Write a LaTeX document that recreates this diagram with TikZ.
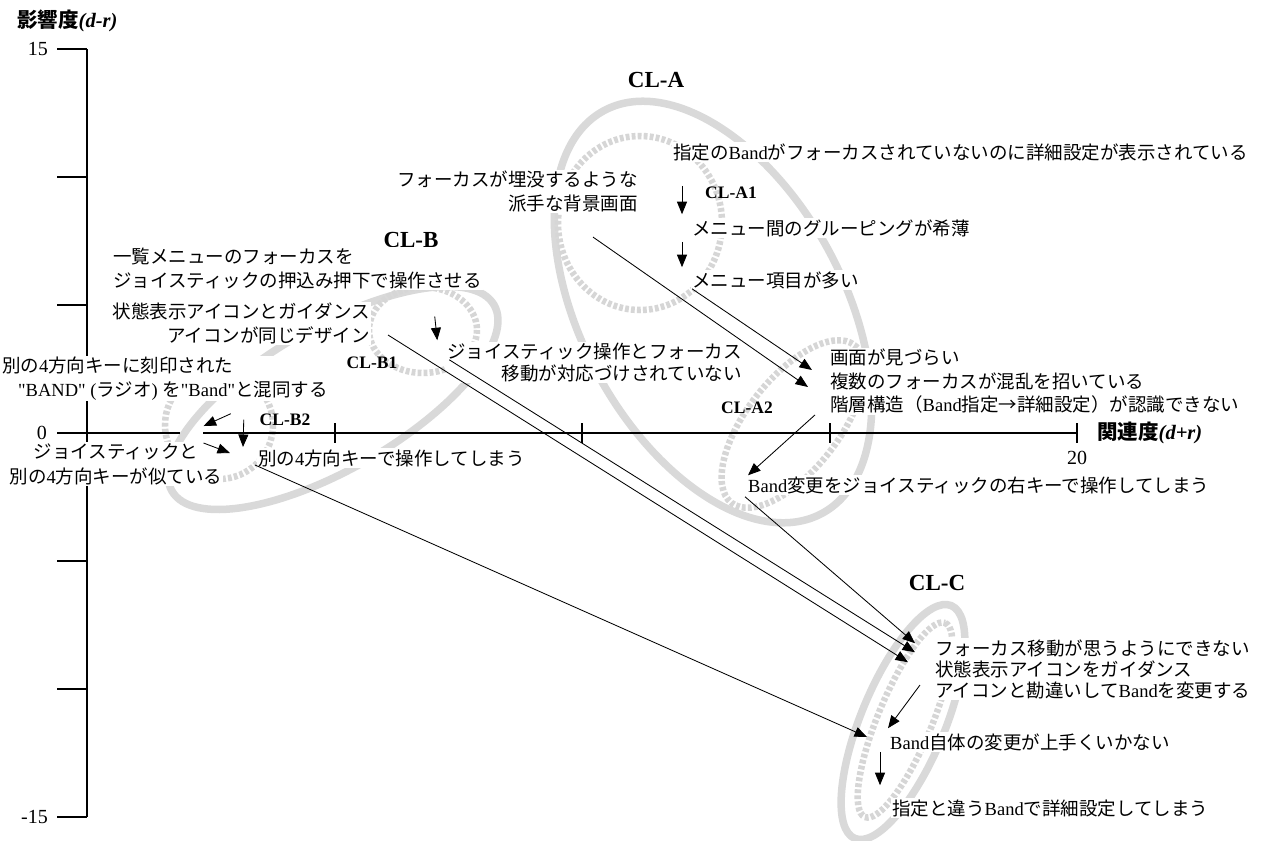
\documentclass[tikz,border=0pt]{standalone}
\usepackage{fontspec}
\setmainfont{Noto Sans CJK JP}
\newfontfamily\latin{Liberation Serif}
\newcommand\rom[1]{{\latin #1}}
\usetikzlibrary{arrows.meta}

\begin{document}
\begin{tikzpicture}[x=1pt,y=-1pt,
  txt/.style={fill=white,inner sep=1pt,font=\fontsize{18.5}{23.5}\selectfont},
  numlab/.style={inner sep=1pt,font=\latin\fontsize{20}{24}\selectfont},
  axlab/.style={inner sep=1pt,font=\bfseries\fontsize{20.5}{24}\selectfont},
  cl/.style={inner sep=1pt,font=\latin\bfseries\fontsize{23}{27}\selectfont},
  subcl/.style={inner sep=1pt,font=\latin\bfseries\fontsize{17.5}{21}\selectfont},
  ring/.style={draw=gray!30,line width=7.5pt},
  dring/.style={draw=gray!32,line width=6.5pt,dash pattern=on 3.8pt off 2.2pt},
  axis/.style={line width=1.3pt},
  arr/.style={line width=0.85pt,-{Triangle[length=12.5pt,width=10pt]}},
]
\fill[white] (0,0) rectangle (1267,841);
\useasboundingbox (0,0) rectangle (1267,841);

% cluster outlines
\draw[ring]  (713,312) ellipse [x radius=229, y radius=131, rotate=-61.5];
\draw[dring] (640,223) ellipse [x radius=82, y radius=87];
\draw[dring] (793,424) ellipse [x radius=100, y radius=46, rotate=52];
\draw[ring]  (333,398) ellipse [x radius=186, y radius=71, rotate=30];
\draw[dring] (423,330) ellipse [x radius=54, y radius=43];
\draw[dring] (219,425) ellipse [x radius=54, y radius=54];
\draw[ring]  (903,722) ellipse [x radius=126, y radius=42, rotate=67.5];
\draw[dring] (905,720) ellipse [x radius=105, y radius=27, rotate=67.5];

% axes
\draw[axis] (87,49) -- (87,817);
\foreach \y in {49,177,305,561,689,817} \draw[axis] (57,\y) -- (87,\y);
\draw[axis] (57,433) -- (180,433);
\draw[axis] (203,433) -- (1077,433);
\foreach \x in {335,582,830,1077} \draw[axis] (\x,423) -- (\x,443);

\node[axlab,anchor=west] (ylab) at (16,21) {影響度{\latin\itshape (d-r)}};
\node[axlab,anchor=west] (xlab) at (1096,433) {関連度{\latin\itshape (d+r)}};
\node[numlab,anchor=east] (n15) at (49,49) {15};
\node[numlab,anchor=east] (n0) at (48,433) {0};
\node[numlab,anchor=east] (nm15) at (49,817) {-15};
\node[numlab] (n20) at (1077,458) {20};

% cluster labels
\node[cl] (clA) at (656,80) {CL-A};
\node[cl] (clB) at (411,240) {CL-B};
\node[cl] (clC) at (937,583) {CL-C};
\node[subcl] (clA1) at (731,193) {CL-A1};
\node[subcl] (clA2) at (747,408) {CL-A2};
\node[subcl] (clB1) at (372,363) {CL-B1};
\node[subcl] (clB2) at (285,420) {CL-B2};

% items
\node[txt,anchor=west] (A) at (672,152) {指定の\rom{Band}がフォーカスされていないのに詳細設定が表示されている};
\node[txt,anchor=east,align=right] (B) at (639,191.5) {フォーカスが埋没するような\\派手な背景画面};
\node[txt,anchor=west] (D) at (691,228) {メニュー間のグルーピングが希薄};
\node[txt,anchor=west] (F) at (691,280) {メニュー項目が多い};
\node[txt,anchor=west,align=left] (G) at (829,381.5) {画面が見づらい\\複数のフォーカスが混乱を招いている\\階層構造（\rom{Band}指定→詳細設定）が認識できない};
\node[txt,anchor=west] (H) at (747,485) {\rom{Band}変更をジョイスティックの右キーで操作してしまう};
\node[txt,anchor=east,align=right,font=\fontsize{18.5}{21.6}\selectfont] (I) at (743,362.8) {ジョイスティック操作とフォーカス\\移動が対応づけされていない};
\node[txt,anchor=west,align=left] (J) at (112,268.5) {一覧メニューのフォーカスを\\ジョイスティックの押込み押下で操作させる};
\node[txt,anchor=east,align=right] (K) at (371,323.5) {状態表示アイコンとガイダンス\\アイコンが同じデザイン};
\node[txt,anchor=west,align=left] (L) at (1,378.5) {別の\rom{4}方向キーに刻印された\\\hspace*{16pt}\rom{"BAND" (}ラジオ\rom{) }を\rom{"Band"}と混同する};
\node[txt,align=center,font=\fontsize{18.5}{25}\selectfont] (M) at (116,464) {ジョイスティックと\\別の\rom{4}方向キーが似ている};
\node[txt,anchor=west] (N) at (257,458) {別の\rom{4}方向キーで操作してしまう};
\node[txt,anchor=west,align=left,font=\fontsize{18.5}{21}\selectfont] (O) at (934,669) {フォーカス移動が思うようにできない\\状態表示アイコンをガイダンス\\アイコンと勘違いして\rom{Band}を変更する};
\node[txt,anchor=west] (P) at (889,742) {\rom{Band}自体の変更が上手くいかない};
\node[txt,anchor=west] (R) at (891,808) {指定と違う\rom{Band}で詳細設定してしまう};

% causal links
\draw[arr] ([shift={(-46,24)}]B.south east) -- ([shift={(-21,5.5)}]G.west);
\draw[arr] ([shift={(1,-1)}]F.south west) -- ([shift={(-17,-11.5)}]G.west);
\draw[arr] ([shift={(-14,0)}]G.south west) -- ([shift={(1,0)}]H.north west);
\draw[arr] ([shift={(-2,2)}]H.south west) -- ([shift={(-19,5)}]O.north west);
\draw[arr] ([shift={(3,-3)}]I.west) -- ([shift={(-19,14)}]O.north west);
\draw[arr] ([shift={(17,11.5)}]K.east) -- ([shift={(-26,24)}]O.north west);
\draw[arr] ([shift={(-2,7)}]N.west) -- ([shift={(-22,-5)}]P.west);
\draw[arr] ([shift={(-14,16)}]O.west) -- ([shift={(-1,-4)}]P.north west);
\draw[arr] ([shift={(-9,0)}]P.south west) -- ([shift={(-11,-13)}]R.north west);
\draw[arr] ([shift={(10,24)}]A.south west) -- ([shift={(-9,-4)}]D.north west);
\draw[arr] ([shift={(-9,4)}]D.south west) -- ([shift={(-9,-3)}]F.north west);
\draw[arr] ([shift={(-48,26.5)}]J.south east) -- ([shift={(-9,-2)}]I.north west);
\draw[arr] ([shift={(-98,12.5)}]L.south east) -- ([shift={(-20,-16)}]M.north east);
\draw[arr] ([shift={(-20,1)}]M.north east) -- ([shift={(-27,-5)}]N.west);
\draw[arr] ([shift={(-85,18.5)}]L.south east) -- ([shift={(-14,-11)}]N.west);
\end{tikzpicture}
\end{document}
